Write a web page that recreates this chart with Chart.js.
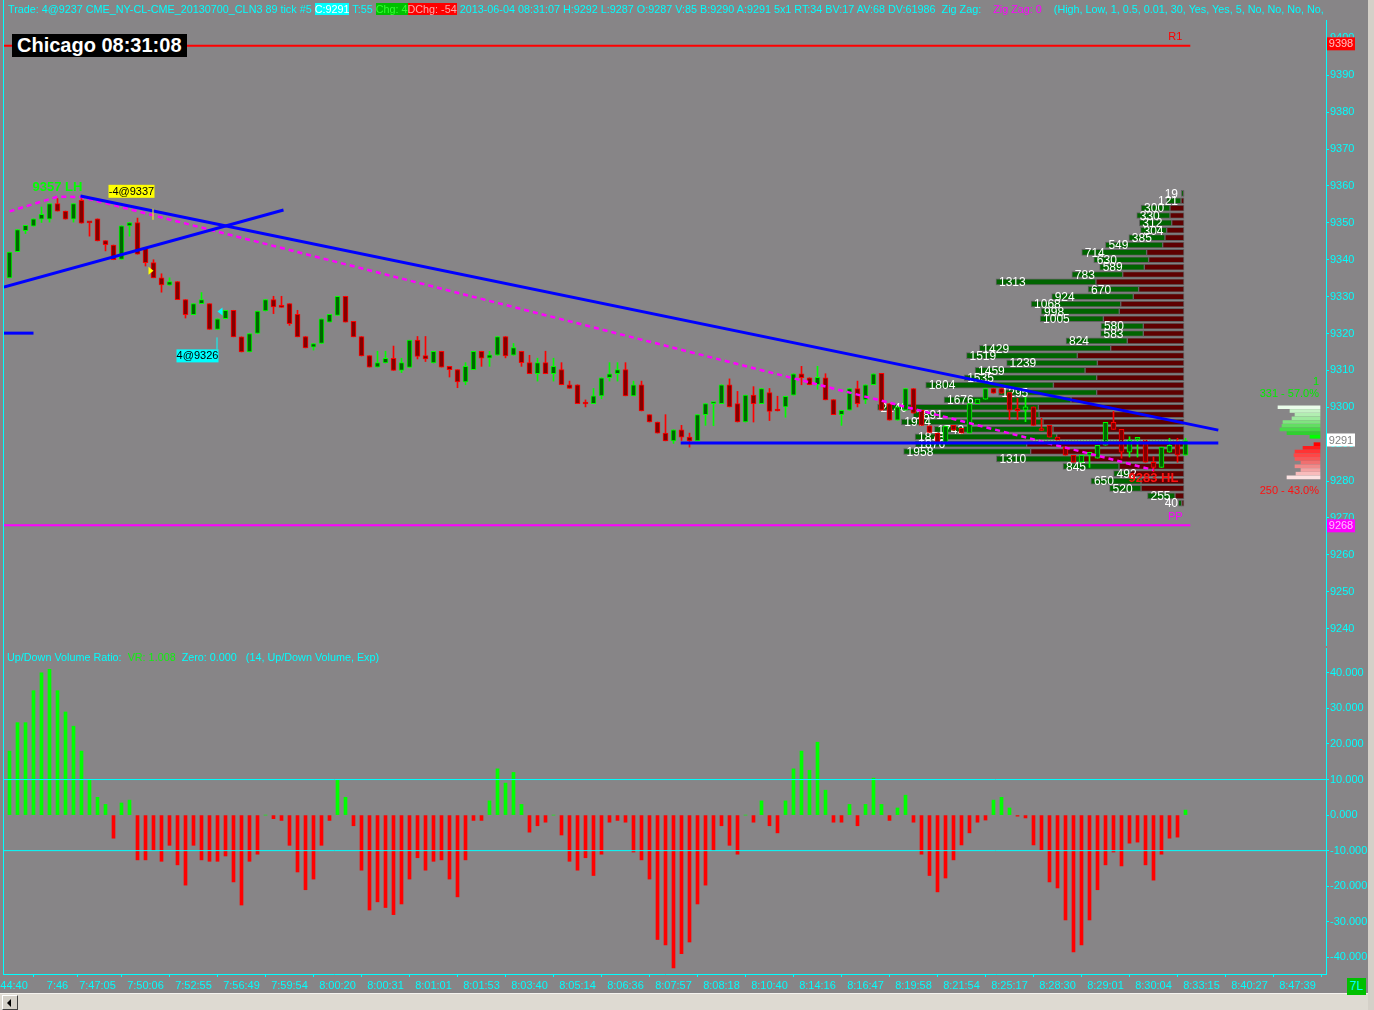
<!DOCTYPE html>
<html>
<head>
<meta charset="utf-8">
<title>CLN3 89 tick</title>
<script src="https://cdn.jsdelivr.net/npm/chart.js@4.4.1/dist/chart.umd.min.js"></script>
<style>
  html, body { margin: 0; padding: 0; }
  body { width: 1374px; height: 1010px; background: #878587; position: relative; overflow: hidden;
         font-family: "Liberation Sans", Arial, sans-serif; }
  canvas { position: absolute; left: 0; }
  #priceChart { top: 0; }
  #vrChart { top: 645px; }
  #header { position: absolute; left: 8px; top: 2px; width: 1318px; overflow: hidden; white-space: pre;
            font-size: 10.8px; line-height: 14px; color: #00ffff; }
  #header .c { background: #00ffff; color: #ffffff; }
  #header .g { background: #00c000; color: #30ff30; }
  #header .r { background: #ff0000; color: #ffa8a8; }
  #header .m { color: #ff00ff; }
  #clock { position: absolute; left: 12px; top: 34px; height: 23px; padding: 0 5px; background: #000;
           color: #fff; font: bold 20px "Liberation Sans", Arial, sans-serif; line-height: 23px; }
  #vrLegend { position: absolute; left: 7px; top: 650px; font-size: 10.8px; line-height: 14px; color: #00ffff; white-space: pre; }
  #vrLegend .g { color: #10f010; }
  #leftEdge { position: absolute; left: 3px; top: 0; width: 1px; height: 975px; background: #00ffff; }
  #scroll { position: absolute; left: 0; top: 993px; width: 1368px; height: 17px; background: #dedad2;
            border-top: 1px solid #f4f2ee; box-sizing: border-box; }
  #scrollBtn { position: absolute; left: 2px; top: 1px; width: 14px; height: 13px; background: #d4d0c8;
               border: 1px solid; border-color: #ffffff #404040 #404040 #ffffff; }
  #scrollBtn:after { content: ""; position: absolute; left: 4px; top: 3px; border-style: solid;
                     border-width: 4px 4px 4px 0; border-color: transparent #000 transparent transparent; }
  #rightStrip { position: absolute; left: 1368px; top: 0; width: 6px; height: 1010px; background: #d4d0c8; }
  #barsTag { position: absolute; left: 1347px; top: 978px; width: 19px; height: 17px; background: #00c000;
             color: #00ffff; font-size: 12px; line-height: 17px; text-align: center; }
</style>
</head>
<body>
<canvas id="priceChart" width="1374" height="648"></canvas>
<canvas id="vrChart" width="1374" height="365"></canvas>
<div id="leftEdge"></div>
<div id="header">Trade: 4@9237 CME_NY-CL-CME_20130700_CLN3 89 tick #5 <span class="c">C:9291</span> T:55 <span class="g">Chg: 4</span><span class="r">DChg: -54</span> 2013-06-04 08:31:07 H:9292 L:9287 O:9287 V:85 B:9290 A:9291 5x1 RT:34 BV:17 AV:68 DV:61986  Zig Zag:    <span class="m">Zig Zag: 0</span>    (High, Low, 1, 0.5, 0.01, 30, Yes, Yes, 5, No, No, No, No, No)</div>
<div id="clock">Chicago 08:31:08</div>
<div id="vrLegend">Up/Down Volume Ratio:  <span class="g">VR: 1.008</span>  Zero: 0.000   (14, Up/Down Volume, Exp)</div>
<div id="scroll"><div id="scrollBtn"></div></div>
<div id="rightStrip"></div>
<div id="barsTag">7L</div>
<script>
// candles, one per 89-tick bar: [open, high, low, close]
const ohlc = [
  [9335.1, 9342.1, 9335.1, 9342.1], [9342.2, 9348.2, 9342.2, 9348.2], [9347.9, 9349.3, 9347.1, 9349.3],
  [9349.1, 9351.1, 9349.1, 9351.1], [9351.0, 9354.3, 9350.1, 9352.3], [9351.0, 9355.2, 9350.2, 9355.2],
  [9355.2, 9356.6, 9353.2, 9353.2], [9353.2, 9353.2, 9351.0, 9351.0], [9351.0, 9355.2, 9350.2, 9355.2],
  [9356.1, 9357.0, 9349.9, 9349.9], [9350.1, 9350.1, 9346.4, 9350.0], [9351.1, 9351.1, 9345.1, 9345.1],
  [9345.2, 9345.2, 9342.4, 9344.1], [9344.0, 9344.0, 9340.0, 9340.0], [9340.1, 9349.2, 9340.1, 9349.2],
  [9349.2, 9350.1, 9346.4, 9350.1], [9350.1, 9351.3, 9341.5, 9341.5], [9343.3, 9343.3, 9338.3, 9339.2],
  [9339.2, 9340.0, 9335.1, 9335.1], [9335.1, 9336.2, 9331.2, 9333.2], [9333.1, 9335.1, 9333.1, 9334.1],
  [9334.1, 9334.1, 9329.2, 9329.2], [9329.2, 9329.2, 9324.2, 9325.1], [9325.1, 9328.1, 9325.1, 9328.1],
  [9328.1, 9331.1, 9328.1, 9329.2], [9328.1, 9328.1, 9321.1, 9321.1], [9321.1, 9324.0, 9321.1, 9324.0],
  [9324.0, 9326.3, 9324.0, 9326.3], [9326.3, 9326.3, 9319.1, 9319.1], [9319.1, 9319.1, 9315.0, 9315.0],
  [9315.0, 9320.0, 9315.0, 9320.0], [9320.0, 9326.1, 9320.0, 9326.1], [9326.1, 9329.2, 9326.1, 9329.2],
  [9329.2, 9330.1, 9325.4, 9327.2], [9327.2, 9330.1, 9327.1, 9327.1], [9328.1, 9328.1, 9322.2, 9322.7],
  [9325.2, 9326.3, 9319.1, 9319.1], [9319.2, 9319.2, 9316.1, 9316.1], [9316.3, 9317.3, 9315.5, 9317.3],
  [9317.3, 9324.0, 9317.3, 9324.0], [9323.1, 9325.2, 9323.1, 9325.2], [9324.9, 9330.1, 9324.9, 9330.1],
  [9330.1, 9330.1, 9323.1, 9323.1], [9323.3, 9323.3, 9319.1, 9319.1], [9319.2, 9319.2, 9313.9, 9313.9],
  [9314.0, 9314.0, 9310.9, 9310.9], [9310.9, 9315.2, 9310.9, 9312.1], [9312.0, 9315.2, 9312.0, 9313.3],
  [9313.3, 9316.6, 9310.0, 9310.0], [9310.0, 9313.3, 9309.4, 9312.1], [9310.8, 9318.2, 9310.8, 9318.2],
  [9318.2, 9319.2, 9313.1, 9313.8], [9314.0, 9319.2, 9312.4, 9313.1], [9312.0, 9315.2, 9312.0, 9315.2],
  [9315.2, 9315.2, 9310.9, 9310.9], [9311.1, 9311.1, 9308.2, 9310.2], [9310.2, 9310.2, 9305.3, 9306.9],
  [9306.9, 9312.1, 9306.1, 9311.1], [9310.2, 9315.2, 9310.2, 9315.2], [9315.2, 9315.2, 9311.1, 9313.3],
  [9313.3, 9315.2, 9311.1, 9314.2], [9314.1, 9319.2, 9314.1, 9319.2], [9319.2, 9319.2, 9313.4, 9313.9],
  [9314.1, 9317.3, 9314.1, 9316.2], [9315.2, 9315.2, 9311.1, 9312.1], [9312.1, 9314.1, 9309.1, 9309.1],
  [9309.1, 9313.3, 9307.1, 9312.1], [9312.1, 9315.2, 9309.1, 9309.1], [9309.1, 9313.3, 9307.1, 9311.1],
  [9310.2, 9312.1, 9306.1, 9306.1], [9306.1, 9307.1, 9305.1, 9305.1], [9306.1, 9306.1, 9301.0, 9301.0],
  [9301.0, 9302.0, 9300.1, 9300.9], [9301.0, 9305.1, 9301.0, 9303.1], [9303.1, 9308.0, 9302.3, 9308.0],
  [9308.0, 9312.1, 9307.1, 9309.1], [9309.1, 9312.1, 9307.1, 9310.2], [9310.2, 9312.1, 9303.1, 9303.1],
  [9303.1, 9307.1, 9303.1, 9306.1], [9306.1, 9307.1, 9299.0, 9299.0], [9298.0, 9298.0, 9296.0, 9296.0],
  [9296.0, 9296.0, 9293.0, 9293.0], [9293.0, 9298.0, 9290.9, 9290.9], [9290.9, 9293.9, 9290.2, 9293.9],
  [9293.9, 9295.1, 9291.0, 9291.9], [9291.9, 9293.0, 9289.2, 9290.9], [9290.9, 9298.0, 9290.9, 9298.0],
  [9298.0, 9301.0, 9295.1, 9301.0], [9301.0, 9301.2, 9295.0, 9301.2], [9301.0, 9306.1, 9301.0, 9306.1],
  [9306.1, 9307.7, 9300.1, 9300.1], [9301.0, 9304.3, 9296.0, 9296.0], [9296.0, 9303.3, 9296.0, 9303.3],
  [9303.3, 9305.6, 9296.0, 9301.0], [9301.0, 9305.1, 9301.0, 9305.1], [9304.0, 9305.1, 9296.4, 9298.9],
  [9299.1, 9303.0, 9299.0, 9299.0], [9300.1, 9303.0, 9297.3, 9303.0], [9303.3, 9309.1, 9303.3, 9309.1],
  [9309.1, 9311.1, 9306.1, 9308.0], [9308.0, 9308.0, 9306.1, 9306.1], [9306.1, 9311.1, 9304.9, 9308.1],
  [9308.0, 9309.1, 9302.0, 9302.0], [9302.1, 9302.1, 9298.0, 9298.0], [9298.0, 9299.2, 9295.1, 9299.2],
  [9299.2, 9305.1, 9299.2, 9305.1], [9305.1, 9307.1, 9300.1, 9301.0], [9302.0, 9306.1, 9301.0, 9306.1],
  [9306.1, 9309.1, 9306.1, 9309.1], [9309.2, 9309.2, 9299.2, 9299.2], [9301.0, 9301.0, 9296.5, 9296.5],
  [9296.5, 9300.1, 9296.5, 9300.1], [9299.2, 9305.1, 9299.2, 9305.1], [9305.1, 9305.1, 9298.4, 9298.4],
  [9299.2, 9299.2, 9295.1, 9295.1], [9295.0, 9295.0, 9293.2, 9293.2], [9293.0, 9293.0, 9290.2, 9290.2],
  [9290.2, 9294.9, 9290.2, 9294.9], [9295.1, 9295.1, 9293.8, 9293.8], [9294.3, 9294.3, 9293.0, 9293.0],
  [9293.0, 9301.0, 9293.0, 9301.0], [9301.0, 9302.2, 9301.0, 9302.2], [9302.2, 9305.1, 9302.2, 9305.1],
  [9305.1, 9305.1, 9303.8, 9303.8], [9305.1, 9305.1, 9303.8, 9303.8], [9304.0, 9304.0, 9296.6, 9299.2],
  [9299.2, 9302.4, 9296.6, 9299.1], [9299.2, 9302.7, 9296.1, 9300.1], [9300.1, 9300.1, 9295.1, 9295.1],
  [9293.8, 9297.0, 9293.7, 9293.7], [9295.1, 9295.1, 9291.9, 9291.9], [9291.9, 9291.9, 9291.1, 9291.1],
  [9289.2, 9289.2, 9287.0, 9287.0], [9287.0, 9287.0, 9285.1, 9285.1], [9285.1, 9287.0, 9285.1, 9287.0],
  [9287.0, 9287.8, 9283.7, 9287.8], [9286.2, 9289.7, 9286.2, 9289.7], [9289.7, 9295.9, 9289.7, 9295.9],
  [9295.9, 9298.9, 9294.0, 9294.0], [9294.0, 9294.0, 9286.2, 9287.8], [9287.8, 9292.0, 9286.5, 9291.1],
  [9291.3, 9291.6, 9286.5, 9291.4], [9291.1, 9291.1, 9285.1, 9285.1], [9285.1, 9286.6, 9282.5, 9283.7],
  [9283.7, 9289.2, 9283.7, 9289.2], [9287.8, 9291.6, 9287.8, 9289.7], [9290.2, 9291.6, 9285.1, 9287.0],
  [9287.0, 9291.6, 9287.0, 9291.0]
];

const priceTicks = [9240, 9250, 9260, 9270, 9280, 9290, 9300, 9310, 9320, 9330,
                    9340, 9350, 9360, 9370, 9380, 9390, 9400];

// volume profile, one row per 2 ticks
const profilePrices = [9358, 9356, 9354, 9352, 9350, 9348, 9346, 9344, 9342, 9340, 9338, 9336, 9334, 9332, 9330,
                       9328, 9326, 9324, 9322, 9320, 9318, 9316, 9314, 9312, 9310, 9308, 9306, 9304, 9302, 9300,
                       9298, 9296, 9294, 9292, 9290, 9288, 9286, 9284, 9282, 9280, 9278, 9276, 9274];
const profileTotal = [19, 121, 300, 330, 312, 304, 385, 549, 714, 630, 589, 783, 1313, 670, 924,
                      1068, 998, 1005, 580, 583, 824, 1429, 1519, 1239, 1459, 1535, 1804, 1295, 1676, 2140,
                      1891, 1974, 1743, 1878, 1876, 1958, 1310, 845, 492, 650, 520, 255, 40];
const profileSell = [3, 21, 98, 98, 86, 121, 133, 149, 261, 247, 277, 428, 615, 317, 354,
                     442, 452, 563, 284, 284, 396, 512, 745, 605, 691, 610, 912, 610, 789, 1017,
                     1012, 985, 915, 889, 1099, 1071, 720, 454, 377, 300, 300, 63, 16];

// small bid/ask ladder beside the price axis
const ladderBuyPrices = [9300, 9299, 9298, 9297, 9296, 9295, 9294, 9293, 9292];
const ladderBuy = [42, 30, 25, 28, 37, 38, 40, 33, 10];
const ladderSellPrices = [9290, 9289, 9288, 9287, 9286, 9285, 9284, 9283, 9282, 9281];
const ladderSell = [6, 17, 25, 26, 25, 19, 25, 19, 24, 33];

const r1Level = 9398;
const ppLevel = 9268;
const lastPrice = 9291;

// drawn objects, [bar index, price]
const trendDown = [[8.875, 9357.3], [151.1, 9293.8]];
const trendUp = [[-0.7, 9332.6], [34.25, 9353.5]];
const stubLine = [[-0.7, 9320.1], [3.0, 9320.1]];
const supportLine = [[83.9, 9290.3], [151.1, 9290.3]];
const zigZag = [[0, 9353.1], [6, 9357.1], [9, 9357.0], [143, 9283.0]];

// Up/Down volume ratio, one per bar
const vr = [
  18, 26, 26, 35, 40, 41, 35, 29, 25, 18,
  10, 5, 3, -6.5, 3.4, 4.2, -12.6, -12.6, -10, -13,
  -8.5, -14, -19.7, -8.5, -12.6, -13, -13, -11.5, -18.8, -25.3,
  -13, -11, 0, -1, -1.5, -8.5, -16, -21, -18, -8.5,
  -1.5, 10, 5, -3, -15.5, -26.7, -24.4, -26, -28, -25,
  -18, -12, -15.5, -13, -12.6, -18, -23, -12.6, -1.5, -1.5,
  4, 13, 9, 12, 3, -4.8, -3, -2, 0, -5.6,
  -13, -15.5, -12, -17, -11, -2, -1.5, -2, -10.4, -12.6,
  -18, -35, -36.5, -43, -39, -35.7, -25, -19.7, -10, -3,
  -8.5, -11, 0, -2, 4, -3, -5, 4, 13, 18,
  12.6, 20.5, 7, -2, -2, 3, -3, 3, 10.4, 3,
  -1.5, 2, 5.6, -2, -11, -17, -21.6, -17.7, -12.6, -8.4,
  -5, -2, -1.4, 4.2, 5, 2, -0.3, -0.8, -8.4, -9.8,
  -18.8, -20.5, -29.5, -38.5, -36.5, -29.5, -21, -14, -10.4, -14.3,
  -7.9, -7.6, -14, -18.3, -11, -6.5, -6.2, 1.4
];
const vrTicks = [-40, -30, -20, -10, 0, 10, 20, 30, 40];
const vrBands = [10, -10];

const timeTickIdx = [0, 6, 11, 17, 23, 29, 35, 41, 47, 53, 59, 65, 71, 77, 83, 89, 95, 101, 107, 113,
                     119, 125, 131, 137, 143, 149, 155, 161];
const timeTickLabels = ['7:44:40', '7:46', '7:47:05', '7:50:06', '7:52:55', '7:56:49', '7:59:54', '8:00:20',
                        '8:00:31', '8:01:01', '8:01:53', '8:03:40', '8:05:14', '8:06:36', '8:07:57', '8:08:18',
                        '8:10:40', '8:14:16', '8:16:47', '8:19:58', '8:21:54', '8:25:17', '8:28:30', '8:29:01',
                        '8:30:04', '8:33:15', '8:40:27', '8:47:39'];

// ---- layout ----
const FONT = '"Liberation Sans", Arial, sans-serif';
Chart.defaults.font.family = FONT;
Chart.defaults.font.size = 11;

const AREA_LEFT = 4, AREA_RIGHT = 1326;
const X_MIN = -0.6875, X_MAX = 164.5625;       // 8 px per bar
const LEVEL_END = 147.6;
const PROFILE_ZERO_PX = 1184, PROFILE_PX_PER_VOL = 0.1432;
const LADDER_ZERO_PX = 1320;
const areaW = AREA_RIGHT - AREA_LEFT;
const profMin = -(AREA_RIGHT - PROFILE_ZERO_PX) / PROFILE_PX_PER_VOL;
const profMax = profMin + areaW / PROFILE_PX_PER_VOL;
const ladMin = -(AREA_RIGHT - LADDER_ZERO_PX);
const ladMax = ladMin + areaW;

const CYAN = '#00ffff';
const isUp = ohlc.map(c => c[3] >= c[0]);
const buyShades = ['#eafcea', '#c6f2c6', '#b2eeb2', '#9ee99e', '#80e480', '#62de62', '#48d848', '#30d030', '#00ff00'];
const sellShades = ['#ff0000', '#ff1c1c', '#ff3434', '#ff4646', '#f85858', '#f07070', '#f08a8a', '#f4a4a4', '#f8bcbc', '#fce2e2'];

const pts = arr => arr.map(([x, y]) => ({ x, y }));

function lineSet(label, data, color, width, order, dash) {
  return { type: 'line', label, data, borderColor: color, borderWidth: width, borderDash: dash || [],
           pointRadius: 0, fill: false, order, xAxisID: 'x', yAxisID: 'y' };
}

const profileLabels = {
  id: 'profileLabels',
  afterDatasetDraw(chart, args) {
    if (chart.data.datasets[args.index].label !== 'profile buy') return;
    const { ctx } = chart;
    const xv = chart.scales.xv, y = chart.scales.y;
    const zero = xv.getPixelForValue(0);
    ctx.save();
    ctx.font = '12px ' + FONT;
    ctx.fillStyle = '#ffffff';
    ctx.textBaseline = 'middle';
    profilePrices.forEach((p, i) => {
      const txt = String(profileTotal[i]);
      const w = ctx.measureText(txt).width;
      const left = xv.getPixelForValue(profileTotal[i]);
      ctx.fillText(txt, Math.min(left + 3, zero - w - 6), y.getPixelForValue(p) + 1);
    });
    ctx.restore();
  }
};

function tag(ctx, x, y, w, h, bg, fg, txt, font) {
  ctx.fillStyle = bg;
  ctx.fillRect(x, y, w, h);
  ctx.fillStyle = fg;
  ctx.font = font;
  ctx.textAlign = 'center';
  ctx.textBaseline = 'middle';
  ctx.fillText(txt, x + w / 2, y + h / 2 + 0.5);
}

const annotations = {
  id: 'annotations',
  afterDraw(chart) {
    const { ctx, chartArea } = chart;
    const X = v => chart.scales.x.getPixelForValue(v);
    const Y = v => chart.scales.y.getPixelForValue(v);
    const f11 = '11px ' + FONT;
    ctx.save();
    ctx.textBaseline = 'middle';
    ctx.textAlign = 'center';
    ctx.font = f11;
    ctx.fillStyle = '#ff0000';
    ctx.fillText('R1', X(LEVEL_END) - 15, Y(r1Level) - 9);
    ctx.fillStyle = '#ff00ff';
    ctx.fillText('PP', X(LEVEL_END) - 15, Y(ppLevel) - 8);

    // swing labels
    ctx.font = 'bold 13px ' + FONT;
    ctx.fillStyle = '#00ff00';
    ctx.fillText('9357 LH', X(6), Y(9357) - 10);
    ctx.fillStyle = '#ff1010';
    ctx.fillText('9283 HL', X(143), Y(9283) + 8);

    // sell fill marker
    const sx = X(17) + 3, sy = Y(9337);
    ctx.fillStyle = '#ffff00';
    ctx.beginPath(); ctx.moveTo(sx, sy - 4); ctx.lineTo(sx + 5, sy); ctx.lineTo(sx, sy + 4); ctx.closePath(); ctx.fill();
    ctx.fillRect(sx + 4, sy - 62, 1, 11);
    tag(ctx, sx - 40, sy - 86, 46, 13, '#ffff00', '#000000', '-4@9337', f11);

    // buy fill marker
    const bx = X(26), by = Y(9326);
    ctx.fillStyle = '#00ffff';
    ctx.beginPath(); ctx.moveTo(bx, by); ctx.lineTo(bx + 5, by - 4); ctx.lineTo(bx + 5, by + 4); ctx.closePath(); ctx.fill();
    ctx.fillRect(bx - 1, by + 26, 1, 12);
    tag(ctx, bx - 41, by + 38, 42, 13, '#00ffff', '#000000', '4@9326', f11);

    // ladder totals
    ctx.font = f11;
    ctx.textAlign = 'right';
    ctx.fillStyle = '#00ee00';
    ctx.fillText('1', 1319, Y(9306.8));
    ctx.fillText('331 - 57.0%', 1319, Y(9303.6));
    ctx.fillStyle = '#ff1010';
    ctx.fillText('250 - 43.0%', 1319, Y(9277.2));

    // price tags on the axis
    const ax = chartArea.right + 1;
    tag(ctx, ax, Y(r1Level) - 8.5, 28, 13, '#ff0000', '#ffc0c0', '9398', f11);
    tag(ctx, ax, Y(lastPrice) - 7, 28, 13, '#ffffff', '#808080', '9291', f11);
    tag(ctx, ax, Y(ppLevel) - 6, 28, 13, '#ff00ff', '#ffc0ff', '9268', f11);
    ctx.restore();
  }
};

new Chart(document.getElementById('priceChart'), {
  type: 'bar',
  data: {
    datasets: [
      lineSet('last', [{ x: 128, y: lastPrice }, { x: 146.75, y: lastPrice }], '#80ff80', 1, 1, [1, 2]),
      lineSet('trend down', pts(trendDown), '#0000ff', 3, 2),
      lineSet('trend up', pts(trendUp), '#0000ff', 3, 2),
      lineSet('stub', pts(stubLine), '#0000ff', 3, 2),
      lineSet('support', pts(supportLine), '#0000ff', 3, 2),
      lineSet('zigzag', pts(zigZag), '#ff00ff', 2.5, 3, [5, 4]),
      {
        type: 'bar', label: 'body', xAxisID: 'x', yAxisID: 'y', order: 4,
        data: ohlc.map((c, i) => ({ x: i, y: [c[0], c[3]] })),
        backgroundColor: isUp.map(u => u ? '#006400' : '#820000'),
        borderColor: isUp.map(u => u ? '#00ff00' : '#ff0000'),
        borderWidth: 1, borderSkipped: false, barThickness: 5, minBarLength: 2, grouped: false
      },
      {
        type: 'bar', label: 'wick', xAxisID: 'x', yAxisID: 'y', order: 5,
        data: ohlc.map((c, i) => ({ x: i, y: [c[2], c[1]] })),
        backgroundColor: isUp.map(u => u ? '#00ff00' : '#ff0000'),
        borderWidth: 0, barThickness: 1, grouped: false
      },
      lineSet('R1', [{ x: X_MIN, y: r1Level }, { x: LEVEL_END, y: r1Level }], '#ff0000', 2, 6),
      lineSet('PP', [{ x: X_MIN, y: ppLevel }, { x: LEVEL_END, y: ppLevel }], '#ff00ff', 2, 6),
      {
        type: 'bar', label: 'ladder buy', indexAxis: 'y', xAxisID: 'xs', yAxisID: 'y', order: 7,
        data: ladderBuyPrices.map((p, i) => ({ y: p, x: [0, ladderBuy[i]] })),
        backgroundColor: buyShades, borderWidth: 0, barThickness: 3, grouped: false
      },
      {
        type: 'bar', label: 'ladder sell', indexAxis: 'y', xAxisID: 'xs', yAxisID: 'y', order: 7,
        data: ladderSellPrices.map((p, i) => ({ y: p, x: [0, ladderSell[i]] })),
        backgroundColor: sellShades, borderWidth: 0, barThickness: 3, grouped: false
      },
      {
        type: 'bar', label: 'profile buy', indexAxis: 'y', xAxisID: 'xv', yAxisID: 'y', order: 9,
        data: profilePrices.map((p, i) => ({ y: p, x: [profileSell[i], profileTotal[i]] })),
        backgroundColor: '#006400', borderColor: '#626262', borderWidth: 1, borderSkipped: false,
        barThickness: 6, grouped: false
      },
      {
        type: 'bar', label: 'profile sell', indexAxis: 'y', xAxisID: 'xv', yAxisID: 'y', order: 10,
        data: profilePrices.map((p, i) => ({ y: p, x: [0, profileSell[i]] })),
        backgroundColor: '#5e0000', borderColor: '#626262', borderWidth: 1, borderSkipped: false,
        barThickness: 6, grouped: false
      }
    ]
  },
  options: {
    responsive: false, animation: false, devicePixelRatio: 1, events: [],
    layout: { padding: { left: AREA_LEFT, top: 20, right: 0, bottom: 3 } },
    plugins: { legend: { display: false }, tooltip: { enabled: false } },
    scales: {
      x: { type: 'linear', min: X_MIN, max: X_MAX, offset: false, display: false },
      xv: { type: 'linear', min: profMin, max: profMax, reverse: true, offset: false, display: false },
      xs: { type: 'linear', min: ladMin, max: ladMax, reverse: true, offset: false, display: false },
      y: {
        type: 'linear', position: 'right', min: 9235.55, max: 9405, offset: false,
        grid: { drawOnChartArea: false, drawTicks: true, tickLength: 3, color: CYAN, offset: false },
        border: { display: true, color: CYAN },
        ticks: { color: CYAN, padding: 1, font: { size: 11 }, callback: v => String(v) },
        afterBuildTicks: s => { s.ticks = priceTicks.map(v => ({ value: v })); },
        afterFit: s => { s.width = 48; s.paddingTop = 0; s.paddingBottom = 0; }
      }
    }
  },
  plugins: [profileLabels, annotations]
});

new Chart(document.getElementById('vrChart'), {
  type: 'bar',
  data: {
    datasets: [
      {
        type: 'line', label: 'bands +', order: 1, xAxisID: 'x', yAxisID: 'y',
        data: [{ x: X_MIN, y: vrBands[0] }, { x: X_MAX, y: vrBands[0] }],
        borderColor: CYAN, borderWidth: 1, pointRadius: 0
      },
      {
        type: 'line', label: 'bands -', order: 1, xAxisID: 'x', yAxisID: 'y',
        data: [{ x: X_MIN, y: vrBands[1] }, { x: X_MAX, y: vrBands[1] }],
        borderColor: CYAN, borderWidth: 1, pointRadius: 0
      },
      {
        type: 'bar', label: 'VR', order: 2, xAxisID: 'x', yAxisID: 'y',
        data: vr.map((v, i) => ({ x: i, y: v })),
        backgroundColor: vr.map(v => v >= 0 ? '#00ff00' : '#ff0000'),
        borderWidth: 0, barThickness: 3, grouped: false
      }
    ]
  },
  options: {
    responsive: false, animation: false, devicePixelRatio: 1, events: [],
    layout: { padding: { left: AREA_LEFT, top: 3, right: 0, bottom: 0 } },
    plugins: { legend: { display: false }, tooltip: { enabled: false } },
    scales: {
      x: {
        type: 'linear', min: X_MIN, max: X_MAX, offset: false,
        grid: { drawOnChartArea: false, drawTicks: true, tickLength: 3, color: CYAN },
        border: { display: true, color: CYAN },
        ticks: { color: CYAN, autoSkip: false, maxRotation: 0, minRotation: 0, padding: 2,
                 callback: (v, i) => timeTickLabels[i] },
        afterBuildTicks: s => { s.ticks = timeTickIdx.map(v => ({ value: v })); },
        afterFit: s => { s.height = 36; s.paddingLeft = 0; s.paddingRight = 0; }
      },
      y: {
        type: 'linear', position: 'right', min: -44.7, max: 47,
        grid: { drawOnChartArea: false, drawTicks: true, tickLength: 3, color: CYAN },
        border: { display: true, color: CYAN },
        ticks: { color: CYAN, padding: 1, callback: v => v.toFixed(3) },
        afterBuildTicks: s => { s.ticks = vrTicks.map(v => ({ value: v })); },
        afterFit: s => { s.width = 48; s.paddingTop = 0; s.paddingBottom = 0; }
      }
    }
  }
});
</script>
</body>
</html>
